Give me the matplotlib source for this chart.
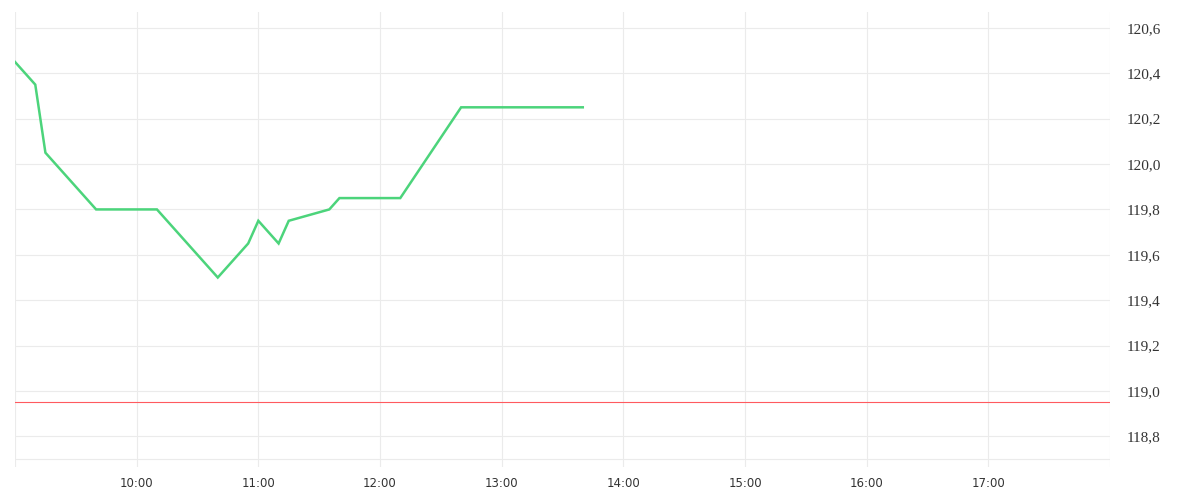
import matplotlib
matplotlib.use("Agg")
import matplotlib.pyplot as plt
from matplotlib.ticker import FixedLocator, FuncFormatter

times = ["09:00", "09:10", "09:15", "09:40", "10:10", "10:40", "10:55", "11:00",
         "11:10", "11:15", "11:35", "11:40", "12:10", "12:40", "13:40"]
prices = [120.45, 120.35, 120.05, 119.80, 119.80, 119.50, 119.65, 119.75,
          119.65, 119.75, 119.80, 119.85, 119.85, 120.25, 120.25]
reference_price = 118.95
y_ticks = [118.8, 119.0, 119.2, 119.4, 119.6, 119.8, 120.0, 120.2, 120.4, 120.6]
x_hours = list(range(9, 19))

def to_hours(t):
    h, m = t.split(":")
    return int(h) + int(m) / 60.0

xs = [to_hours(t) for t in times]

fig = plt.figure(figsize=(12, 5), dpi=100)
ax = fig.add_axes([0.0125, 0.066, 0.9125, 0.91])

ax.set_xlim(9, 18)
ax.set_ylim(118.665, 120.67)

ax.plot(xs, prices, color="#4cd47b", linewidth=1.8, solid_joinstyle="miter", zorder=3)
ax.axhline(reference_price, color="#ff5a5f", linewidth=0.8, zorder=2)

ax.xaxis.set_major_locator(FixedLocator(x_hours))
ax.xaxis.set_major_formatter(FuncFormatter(
    lambda v, p: "" if v in (9, 18) else f"{int(round(v)):02d}:00"))
ax.yaxis.set_major_locator(FixedLocator(y_ticks))
ax.yaxis.set_minor_locator(FixedLocator([118.7]))
ax.yaxis.set_major_formatter(FuncFormatter(lambda v, p: f"{v:.1f}".replace(".", ",")))
ax.yaxis.tick_right()

ax.grid(True, which="major", color="#ebebeb", linewidth=0.8, zorder=0)
ax.grid(True, which="minor", axis="y", color="#ebebeb", linewidth=0.8, zorder=0)
ax.set_axisbelow(True)

for s in ax.spines.values():
    s.set_visible(False)

ax.tick_params(axis="both", which="both", length=0)
ax.tick_params(axis="x", pad=7, labelsize=8.5, labelcolor="#333333")
ax.tick_params(axis="y", pad=12, labelsize=11, labelcolor="#333333")
for lab in ax.get_yticklabels():
    lab.set_family("Liberation Serif")
for lab in ax.get_xticklabels():
    lab.set_family("DejaVu Sans")

fig.savefig("out.png", dpi=100, facecolor="white")
